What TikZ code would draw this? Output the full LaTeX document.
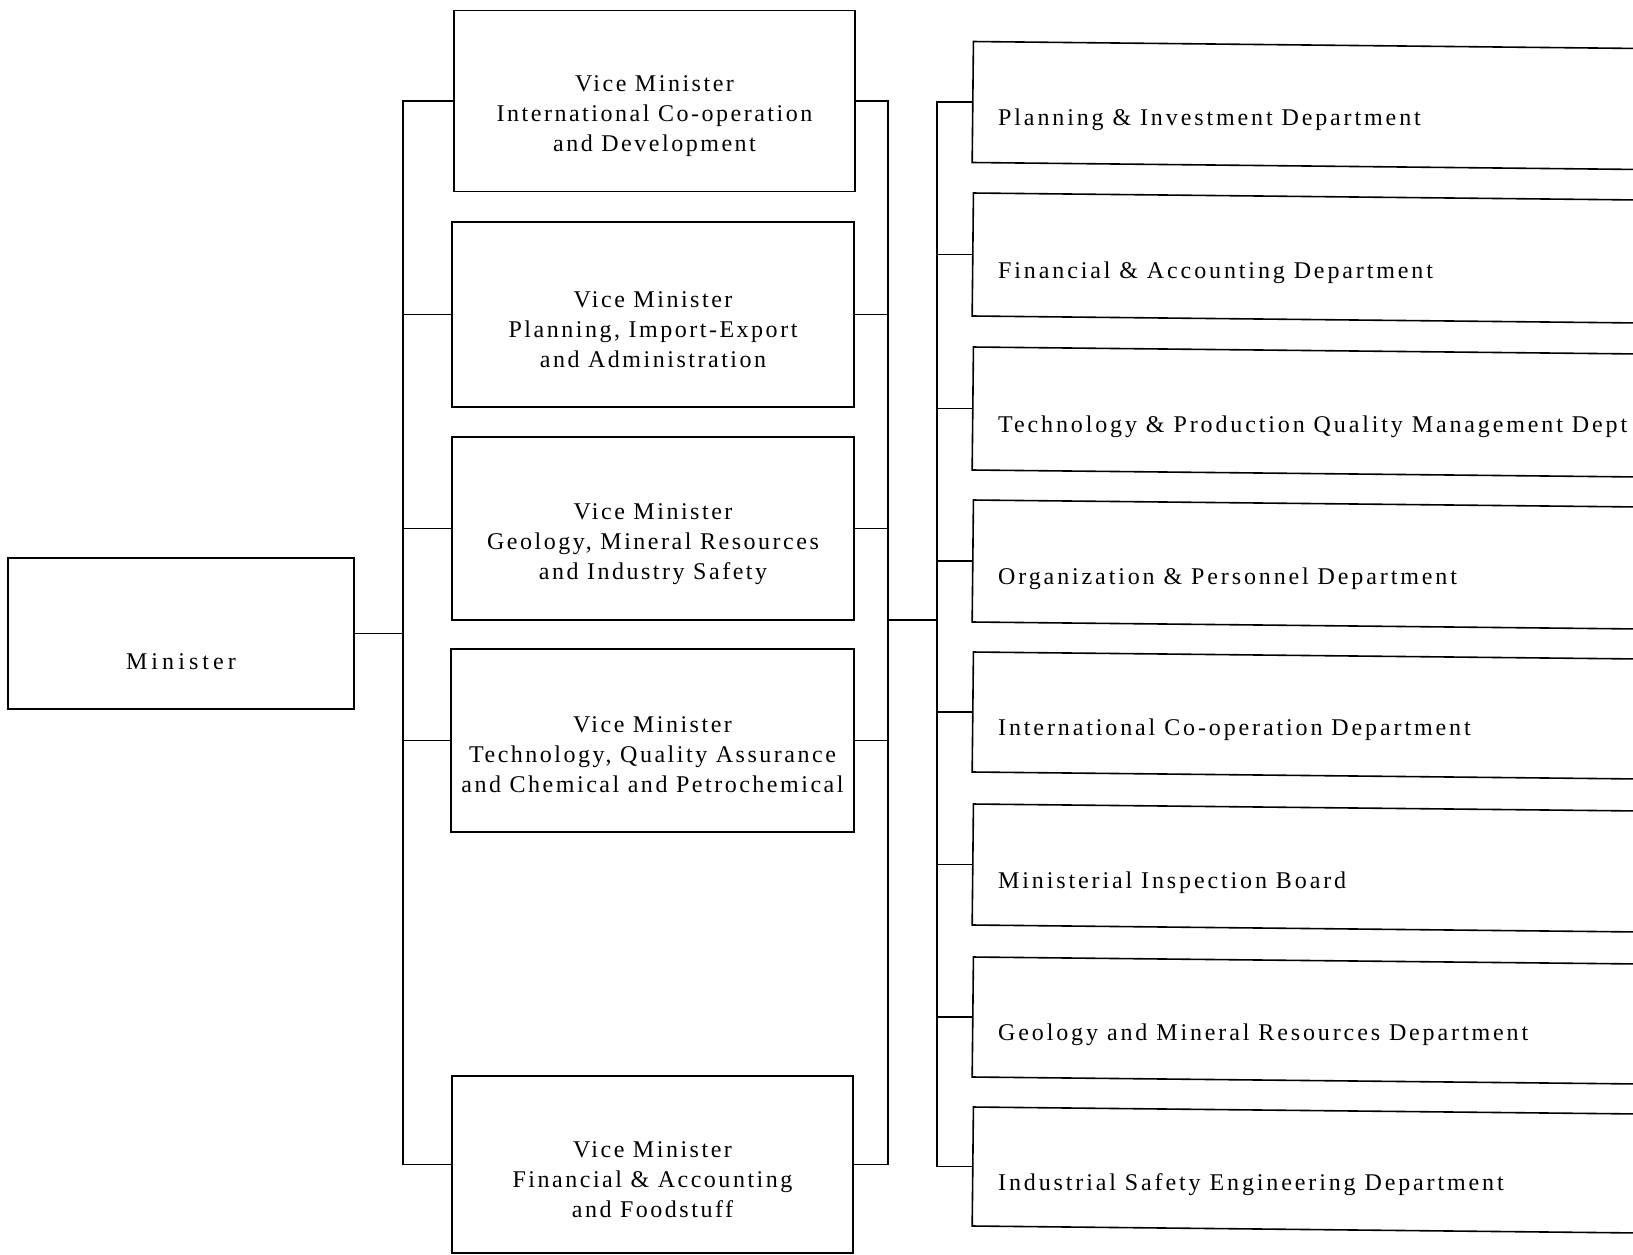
\documentclass[tikz,border=0pt]{standalone}
\usepackage{fontspec}
\setmainfont{Liberation Serif}
\begin{document}
\begin{tikzpicture}[x=1pt,y=-1pt,
  box/.style={draw, rectangle, inner sep=0pt, line width=1.6pt},
  deptbox/.style={box, anchor=west, minimum width=790, rotate=-0.6},
  wire/.style={line width=1.6pt, line cap=rect},
  vmtext/.style={align=center, inner sep=0pt, font=\fontsize{24}{30}\selectfont\addfontfeature{LetterSpace=10.5}},
  mintext/.style={inner sep=0pt, font=\fontsize{24}{30}\selectfont\addfontfeature{LetterSpace=17}},
  depttext/.style={anchor=west, inner sep=0pt, font=\fontsize{24}{30}\selectfont\addfontfeature{LetterSpace=12}}
]
\useasboundingbox (0,0) rectangle (1633,1255);
\clip (0,0) rectangle (1633,1255);
\fill[white] (0,0) rectangle (1633,1255);

% Minister
\node[box, minimum width=346, minimum height=151] (min) at (181,633.5) {};
\node[mintext] (mint) at (181,662) {Minister};

% Vice ministers
\node[box, minimum width=401, minimum height=181] (vm1) at (654.5,101) {};
\node[box, minimum width=402, minimum height=185] (vm2) at (653,314.5) {};
\node[box, minimum width=402, minimum height=183] (vm3) at (653,528.5) {};
\node[box, minimum width=403, minimum height=183] (vm4) at (652.5,740.5) {};
\node[box, minimum width=401, minimum height=177] (vm5) at (652.5,1164.5) {};

\node[vmtext] (vm1t) at (654.5,116) {Vice Minister\\International Co-operation\\and Development};
\node[vmtext] (vm2t) at (653,330) {Vice Minister\\Planning, Import-Export\\and Administration};
\node[vmtext] (vm3t) at (653,544) {Vice Minister\\Geology, Mineral Resources\\and Industry Safety};
\node[vmtext] (vm4t) at (652.5,755) {Vice Minister\\Technology, Quality Assurance\\and Chemical and Petrochemical};
\node[vmtext] (vm5t) at (652.5,1180) {Vice Minister\\Financial \& Accounting\\and Foodstuff};

% Departments
\node[deptbox, minimum height=121] (d1) at (972,102) {};
\node[deptbox, minimum height=123] (d2) at (972,254.5) {};
\node[deptbox, minimum height=123] (d3) at (972,408.5) {};
\node[deptbox, minimum height=122] (d4) at (972,561) {};
\node[deptbox, minimum height=120] (d5) at (972,712) {};
\node[deptbox, minimum height=121] (d6) at (972,864.5) {};
\node[deptbox, minimum height=120] (d7) at (972,1017) {};
\node[deptbox, minimum height=119] (d8) at (972,1166.5) {};

\node[depttext] (d1t) at (998,120) {Planning \& Investment Department};
\node[depttext] (d2t) at (998,272.5) {Financial \& Accounting Department};
\node[depttext] (d3t) at (998,426.5) {Technology \& Production Quality Management Dept};
\node[depttext] (d4t) at (998,579) {Organization \& Personnel Department};
\node[depttext] (d5t) at (998,730) {International Co-operation Department};
\node[depttext] (d6t) at (998,882.5) {Ministerial Inspection Board};
\node[depttext] (d7t) at (998,1035) {Geology and Mineral Resources Department};
\node[depttext] (d8t) at (998,1184.5) {Industrial Safety Engineering Department};

% Buses
\coordinate (lbtop) at (403,101);
\coordinate (lbbot) at (403,1164.5);
\coordinate (rbtop) at (888,101);
\coordinate (rbbot) at (888,1164.5);
\coordinate (br1) at (888,620);
\coordinate (br2) at (937,620);
\coordinate (tbtop) at (937,102);
\coordinate (tbbot) at (937,1166.5);

\draw[wire] (lbtop) -- (lbbot);
\draw[wire] (rbtop) -- (rbbot);
\draw[wire] (tbtop) -- (tbbot);
\draw[wire] (br1) -- (br2);
\draw[wire] (min.east) -- (min.east -| lbtop);
\foreach \v in {vm1,vm2,vm3,vm4,vm5} {
  \draw[wire] (\v.west) -- (\v.west -| lbtop);
  \draw[wire] (\v.east) -- (\v.east -| rbtop);
}
\foreach \d in {d1,d2,d3,d4,d5,d6,d7,d8} {
  \draw[wire] (\d.west) -- (\d.west -| tbtop);
}
\end{tikzpicture}
\end{document}
